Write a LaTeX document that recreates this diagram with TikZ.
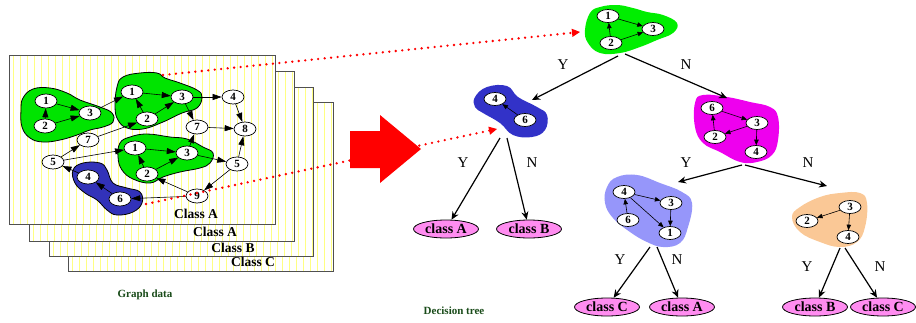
\documentclass[tikz,border=0pt]{standalone}
\usepackage{fontspec}
\setmainfont{Liberation Serif}
\usetikzlibrary{arrows.meta,shapes.geometric,calc}
\definecolor{gA}{RGB}{0,228,0}
\definecolor{gT}{RGB}{0,238,0}
\definecolor{bA}{RGB}{50,50,185}
\definecolor{bT}{RGB}{50,50,200}
\definecolor{mT}{RGB}{238,0,238}
\definecolor{lavT}{RGB}{150,150,250}
\definecolor{oraT}{RGB}{250,200,150}
\definecolor{clsPink}{RGB}{255,140,240}
\definecolor{capGreen}{RGB}{25,75,25}
\definecolor{stripe}{RGB}{255,255,130}
\definecolor{sheetLine}{RGB}{80,80,80}
\tikzset{
 gn/.style={ellipse, draw, fill=white, line width=0.7pt, minimum width=22pt, minimum height=14pt, inner sep=0pt, font=\fontsize{11}{11}\selectfont\bfseries},
 tn/.style={gn, minimum width=22pt, minimum height=13pt},
 ge/.style={-{Triangle[length=9pt,width=6pt]}, line width=0.6pt},
 te/.style={-{Triangle[length=5.5pt,width=4.5pt]}, line width=0.6pt},
 br/.style={-{Stealth[length=8pt,width=7pt]}, line width=1.2pt},
 cls/.style={ellipse, draw, fill=clsPink, line width=0.8pt, minimum width=65pt, minimum height=18pt, inner sep=0pt, font=\fontsize{14}{14}\selectfont\bfseries},
 yn/.style={font=\fontsize{15}{15}\selectfont},
 shl/.style={font=\fontsize{13.5}{13.5}\selectfont\bfseries},
 capt/.style={font=\fontsize{11}{11}\selectfont\bfseries, text=capGreen},
 reddot/.style={red, line width=2.6pt, dash pattern=on 0pt off 6.5pt, line cap=round},
 redtip/.style={-{Triangle[length=8pt,width=8pt]}, red, line width=1pt},
 blobline/.style={draw=black, line width=0.8pt},
}
\begin{document}
\begin{tikzpicture}[x=1pt,y=-1pt]
\useasboundingbox (0,0) rectangle (916,322);
% ---------- stacked sheets ----------
\foreach \xa/\ya/\xb/\yb/\bk in {68/102/333/271/1, 49/87/313/256/1, 29/71/294/241/1, 9/55/275/224/0} {
  \fill[white] (\xa,\ya) rectangle (\xb,\yb);
  \begin{scope}
    \clip (\xa,\ya) rectangle (\xb,\yb);
    \foreach \s in {0,7,...,280} \draw[stripe, line width=0.7pt] (\xa+4+\s,\ya) -- (\xa+4+\s,\yb);
  \end{scope}
  \ifnum\bk=1 \node[gn] at (\xa+234,\ya+72) {}; \fi
  \draw[sheetLine, line width=1pt] (\xa,\ya) rectangle (\xb,\yb);
}
\node[shl] (sA1) at (196,214) {Class A};
\node[shl] (sA2) at (215,232) {Class A};
\node[shl] (sB) at (233,248) {Class B};
\node[shl] (sC) at (253,262) {Class C};
% ---------- blobs on front sheet ----------
\draw[blobline, fill=gA] plot[smooth cycle, tension=0.7] coordinates {(23,98) (33,89) (50,88) (67,93) (80,100) (100,107) (112,113) (113,122) (103,127) (90,130) (77,135) (60,140) (43,142) (30,138) (22,127) (21,110)};
\draw[blobline, fill=gA] plot[smooth cycle, tension=0.7] coordinates {(117,87) (123,77) (140,73) (157,73) (165,78) (180,83) (197,90) (202,97) (197,108) (182,113) (163,122) (143,129) (127,128) (118,120) (115,107)};
\draw[blobline, fill=gA] plot[smooth cycle, tension=0.7] coordinates {(120,143) (130,137) (147,134) (170,137) (187,139) (203,147) (213,153) (210,163) (200,168) (180,172) (163,177) (150,183) (133,179) (122,170) (118,157)};
\draw[blobline, fill=bA] plot[smooth cycle, tension=0.7] coordinates {(73,170) (83,163) (100,163) (107,170) (113,183) (127,188) (140,192) (142,203) (133,212) (117,215) (107,210) (97,200) (85,193) (75,183)};
% ---------- front graph nodes ----------
\node[gn] (a1) at (46,101) {1};
\node[gn] (a2) at (45,126) {2};
\node[gn] (a3) at (90,113) {3};
\node[gn] (b1) at (132,92) {1};
\node[gn] (b3) at (182,97) {3};
\node[gn] (b2) at (147,119) {2};
\node[gn] (n4) at (233,97) {4};
\node[gn] (u7) at (197,127) {7};
\node[gn] (n8) at (245,129) {8};
\node[gn] (l7) at (88,140) {7};
\node[gn] (l5) at (53,162) {5};
\node[gn] (c1) at (135,148) {1};
\node[gn] (c3) at (187,153) {3};
\node[gn] (c2) at (147,174) {2};
\node[gn] (r5) at (237,164) {5};
\node[gn] (n9) at (197,196) {9};
\node[gn] (d4) at (88,177) {4};
\node[gn] (d6) at (120,199) {6};
% ---------- front graph edges ----------
\draw[ge] (a2) -- (a1);
\draw[ge] (a1) -- (a3);
\draw[ge] (a2) -- (a3);
\draw[ge] (a3) -- (b1);
\draw[ge] (b2) -- (b1);
\draw[ge] (b1) -- (b3);
\draw[ge] (b2) -- (b3);
\draw[ge] (b3) -- (n4);
\draw[ge] (b3) -- (u7);
\draw[ge] (n4) -- (n8);
\draw[ge] (u7) -- (n8);
\draw[ge] (l7) -- (b2);
\draw[ge] (l5) -- (l7);
\draw[ge] (l5) -- (c1);
\draw[ge] (d4) -- (l5);
\draw[ge] (d6) -- (d4);
\draw[ge] (n9) -- (d6);
\draw[ge] (n9) -- (c2);
\draw[ge] (r5) -- (n9);
\draw[ge] (r5) -- (n8);
\draw[ge] (c3) -- (r5);
\draw[ge] (c3) -- (u7);
\draw[ge] (c2) -- (c1);
\draw[ge] (c1) -- (c3);
\draw[ge] (c2) -- (c3);
% ---------- red dotted links ----------
\coordinate (rd1s) at (163,75);
\coordinate (rd1e) at (580,32);
\coordinate (rd2s) at (146,204);
\coordinate (rd2e) at (497,129);
\draw[reddot] (rd1s) -- ($(rd1e)!6pt!(rd1s)$);
\draw[redtip] ($(rd1e)!7pt!(rd1s)$) -- (rd1e);
\draw[reddot] (rd2s) -- ($(rd2e)!6pt!(rd2s)$);
\draw[redtip] ($(rd2e)!7pt!(rd2s)$) -- (rd2e);
% ---------- big red arrow ----------
\fill[red] (350,131) -- (380,131) -- (380,115) -- (421,149) -- (380,183) -- (380,168) -- (350,168) -- cycle;
% ---------- decision tree blobs ----------
\fill[gT] plot[smooth cycle, tension=0.7] coordinates {(590,13) (600,7) (617,5) (633,8) (647,12) (663,15) (677,23) (673,33) (657,40) (640,47) (620,53) (600,53) (588,43) (585,30)};
\fill[bT] plot[smooth cycle, tension=0.7] coordinates {(475,97) (487,87) (507,86) (518,97) (537,107) (547,115) (545,130) (532,137) (513,135) (500,123) (483,113) (475,107)};
\fill[mT] plot[smooth cycle, tension=0.7] coordinates {(695,103) (703,95) (727,97) (750,102) (770,107) (778,117) (778,140) (772,155) (757,162) (740,162) (720,152) (703,143) (695,127)};
\fill[lavT] plot[smooth cycle, tension=0.7] coordinates {(607,187) (617,177) (637,175) (660,183) (682,192) (692,203) (688,227) (680,243) (663,247) (647,242) (630,232) (613,218) (605,203)};
\fill[oraT] plot[smooth cycle, tension=0.7] coordinates {(792,217) (800,207) (820,197) (840,193) (860,193) (867,203) (865,227) (857,242) (840,247) (820,242) (800,232)};
% ---------- tree node graphs ----------
\node[tn] (t1) at (608,16) {1};
\node[tn] (t3) at (653,29) {3};
\node[tn] (t2) at (611,43) {2};
\draw[te] (t2) -- (t1);
\draw[te] (t1) -- (t3);
\draw[te] (t2) -- (t3);
\node[tn] (s4) at (495,99) {4};
\node[tn] (s6) at (525,120) {6};
\draw[te] (s6) -- (s4);
\node[tn] (m6) at (712,108) {6};
\node[tn] (m3) at (757,123) {3};
\node[tn] (m2) at (715,137) {2};
\node[tn] (m4) at (756,152) {4};
\draw[te] (m2) -- (m6);
\draw[te] (m6) -- (m3);
\draw[te] (m3) -- (m2);
\draw[te] (m3) -- (m4);
\node[tn] (p4) at (624,192) {4};
\node[tn] (p3) at (671,203) {3};
\node[tn] (p6) at (628,220) {6};
\node[tn] (p1) at (670,233) {1};
\draw[te] (p6) -- (p4);
\draw[te] (p4) -- (p3);
\draw[te] (p3) -- (p1);
\draw[te] (p4) -- (p1);
\node[tn] (o3) at (850,207) {3};
\node[tn] (o2) at (807,221) {2};
\node[tn] (o4) at (848,237) {4};
\draw[te] (o3) -- (o2);
\draw[te] (o3) -- (o4);
% ---------- tree branches ----------
\coordinate (rootL) at (618,56);
\coordinate (rootR) at (625,54);
\coordinate (blueT) at (532,100);
\coordinate (magT) at (727,98);
\coordinate (blueL) at (500,138);
\coordinate (blueR) at (507,138);
\coordinate (magL) at (742,165);
\coordinate (magR) at (745,165);
\coordinate (lavTop) at (678,182);
\coordinate (oraTop) at (827,186);
\coordinate (lavL) at (650,247);
\coordinate (lavR) at (657,247);
\coordinate (oraL) at (840,248);
\coordinate (oraR) at (845,248);
\node[cls] (ca1) at (446,229) {class A};
\node[cls] (cb1) at (529,229) {class B};
\node[cls] (cc2) at (607,307) {class C};
\node[cls] (ca2) at (682,307) {class A};
\node[cls] (cb3) at (815,307) {class B};
\node[cls] (cc3) at (883,307) {class C};
\draw[br] (rootL) -- (blueT);
\draw[br] (rootR) -- (magT);
\draw[br] (blueL) -- (ca1);
\draw[br] (blueR) -- (cb1);
\draw[br] (magL) -- (lavTop);
\draw[br] (magR) -- (oraTop);
\draw[br] (lavL) -- (cc2);
\draw[br] (lavR) -- (ca2);
\draw[br] (oraL) -- (cb3);
\draw[br] (oraR) -- (cc3);
\node[yn] (y1) at (563,65) {Y};
\node[yn] (n1) at (686,65) {N};
\node[yn] (y2) at (463,163) {Y};
\node[yn] (n2) at (532,163) {N};
\node[yn] (y3) at (686,163) {Y};
\node[yn] (n3) at (808,163) {N};
\node[yn] (y4) at (620,260) {Y};
\node[yn] (n4l) at (677,260) {N};
\node[yn] (y5) at (807,267) {Y};
\node[yn] (n5) at (880,267) {N};
% ---------- captions ----------
\node[capt] (capG) at (145,295) {Graph data};
\node[capt] (capD) at (454,311) {Decision tree};
\end{tikzpicture}
\end{document}
